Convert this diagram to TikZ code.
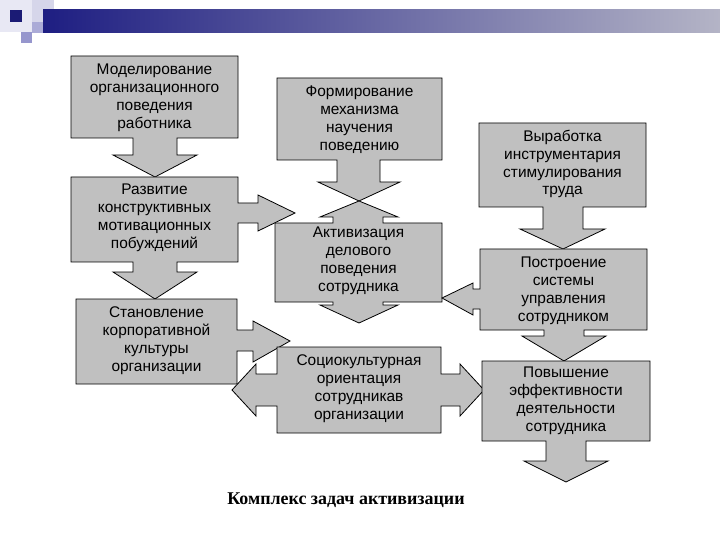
\documentclass[tikz,border=0pt]{standalone}
\usepackage{fontspec}
\setmainfont{Liberation Sans}
\newfontfamily\capfont{Liberation Serif}
\definecolor{boxgray}{RGB}{192,192,192}
\definecolor{navy}{RGB}{30,30,130}
\definecolor{barend}{RGB}{180,180,198}
\definecolor{palesq}{RGB}{214,214,234}
\definecolor{midsq}{RGB}{150,150,205}
\definecolor{lightsq}{RGB}{232,232,244}
\begin{document}
\begin{tikzpicture}[x=1bp,y=-1bp,
  blk/.style={fill=boxgray,draw=black,line width=0.8bp,line join=miter},
  lbl/.style={align=center,font=\fontsize{15.5}{18}\selectfont,inner sep=0pt}]
\useasboundingbox (0,0) rectangle (720,540);
\fill[white] (0,0) rectangle (720,540);
% banner
\fill[lightsq] (0,0) rectangle (32,32);
\fill[palesq] (32,0) rectangle (54,22);
\fill[midsq!80!white] (32,22) rectangle (43,33);
\fill[midsq] (21,32) rectangle (32,43);
\fill[navy!90!black] (10,10) rectangle (22,22);
\shade[left color=navy, right color=barend] (43,10) rectangle (720,33);
% S1 Моделирование
\filldraw[blk] (71,56)--(238,56)--(238,138)--(177,138)--(177,155)--(197,155)--(155,177)--(113,155)--(133,155)--(133,138)--(71,138)--cycle;
% S2 Развитие
\filldraw[blk] (71,177)--(238,177)--(238,203)--(258,203)--(258,195)--(295,213)--(258,231)--(258,223)--(238,223)--(238,262)--(177,262)--(177,272)--(197,272)--(155,299)--(113,272)--(133,272)--(133,262)--(71,262)--cycle;
% S3 Становление
\filldraw[blk] (76,299)--(237,299)--(237,330)--(253,330)--(253,321)--(290,341)--(253,362)--(253,351)--(237,351)--(237,384)--(76,384)--cycle;
% S4 Формирование
\filldraw[blk] (277,78)--(442,78)--(442,160)--(380,160)--(380,182)--(400,182)--(359,201)--(318,182)--(337,182)--(337,160)--(277,160)--cycle;
% S5 Активизация
\filldraw[blk] (275,223)--(333,223)--(333,217)--(320,217)--(359,201)--(398,217)--(383,217)--(383,223)--(442,223)--(442,302)--(383,302)--(383,305)--(398,305)--(359,323)--(320,305)--(333,305)--(333,302)--(275,302)--cycle;
% S6 Социокультурная
\filldraw[blk] (277,347)--(441,347)--(441,374)--(460,374)--(460,364)--(484,390)--(460,416)--(460,406)--(441,406)--(441,433)--(277,433)--(277,406)--(256,406)--(256,416)--(232,390)--(256,364)--(256,374)--(277,374)--cycle;
% S7 Выработка
\filldraw[blk] (479,123)--(646,123)--(646,207)--(583,207)--(583,229)--(605,229)--(563,249)--(520,229)--(543,229)--(543,207)--(479,207)--cycle;
% S8 Построение
\filldraw[blk] (480,249)--(647,249)--(647,330)--(584,330)--(584,336)--(606,336)--(564,361)--(522,336)--(544,336)--(544,330)--(480,330)--(480,309)--(473,309)--(473,315)--(442,298)--(473,283)--(473,289)--(480,289)--cycle;
% S9 Повышение
\filldraw[blk] (482,361)--(650,361)--(650,441)--(586,441)--(586,461)--(608,461)--(566,482)--(524,461)--(546,461)--(546,441)--(482,441)--cycle;
% labels
\node[lbl] (t1) at (154.5,98) {Моделирование\\организационного\\поведения\\работника};
\node[lbl] (t2) at (154.5,218) {Развитие\\конструктивных\\мотивационных\\побуждений};
\node[lbl] (t3) at (156.5,341) {Становление\\корпоративной\\культуры\\организации};
\node[lbl] (t4) at (359.5,120) {Формирование\\механизма\\научения\\поведению};
\node[lbl] (t5) at (358.5,261) {Активизация\\делового\\поведения\\сотрудника};
\node[lbl] (t6) at (359,389) {Социокультурная\\ориентация\\сотрудникав\\организации};
\node[lbl] (t7) at (562.5,164) {Выработка\\инструментария\\стимулирования\\труда};
\node[lbl] (t8) at (563.5,291) {Построение\\системы\\управления\\сотрудником};
\node[lbl] (t9) at (566,401) {Повышение\\эффективности\\деятельности\\сотрудника};
\node[font=\capfont\bfseries\fontsize{18}{21}\selectfont,inner sep=0pt] (cap) at (346,500) {Комплекс задач активизации};
\end{tikzpicture}
\end{document}
